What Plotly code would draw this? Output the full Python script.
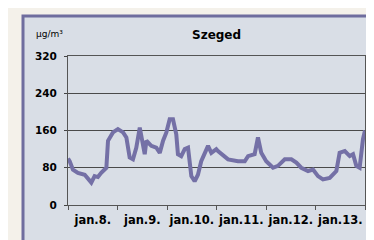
import plotly.graph_objects as go

# hours from jan.8. 00:00 and PM10 concentration (µg/m³)
hours = [0, 0.8, 2.4, 4.8, 8.1, 9.7, 11.3, 12.9, 14.5, 16.1, 18.6, 19.4, 21.8, 24.2, 26.7,
         28.3, 29.9, 31.5, 33.1, 34.8, 36.4, 37.2, 38.0, 40.4, 42.8, 44.5, 46.1, 47.7,
         49.3, 50.9, 52.5, 53.3, 54.9, 56.6, 58.2, 59.0, 59.8, 61.4, 63.0, 64.6, 66.3,
         67.9, 69.5, 71.9, 72.7, 77.6, 82.4, 85.7, 87.3, 90.5, 92.1, 93.7, 96.1, 99.4,
         101.8, 105.1, 108.3, 110.7, 113.1, 116.4, 118.8, 121.2, 123.6, 126.9, 130.1,
         131.7, 134.2, 136.6, 138.2, 139.8, 141.4, 143.0, 144]
values = [100, 94, 76, 69, 65, 58, 48, 62, 60, 69, 80, 138, 156, 163, 156,
          145, 102, 98, 123, 166, 127, 109, 138, 127, 123, 112, 138, 156,
          184, 184, 152, 109, 105, 120, 123, 94, 62, 51, 65, 94, 112,
          127, 112, 120, 116, 98, 94, 94, 105, 109, 145, 112, 94, 80,
          84, 98, 98, 91, 80, 73, 76, 62, 55, 58, 73,
          112, 116, 105, 109, 84, 80, 141, 160]

day_labels = ["jan.8.", "jan.9.", "jan.10.", "jan.11.", "jan.12.", "jan.13."]
day_centers = [12, 36, 60, 84, 108, 132]
y_ticks = [0, 80, 160, 240, 320]

fig = go.Figure()
fig.add_trace(go.Scatter(x=hours, y=values, mode="lines",
                         line=dict(color="#7470a6", width=4), hoverinfo="skip"))

fam = "DejaVu Sans, Arial, sans-serif"
xfnt = dict(family=fam, size=11.5, color="#000000")
yfnt = dict(family=fam, size=10.5, color="#000000")

fig.update_layout(
    width=374, height=240,
    margin=dict(l=60, r=17, t=48, b=43),
    paper_bgcolor="#f4f1ea",
    plot_bgcolor="rgba(0,0,0,0)",
    showlegend=False,
    shapes=[dict(type="rect", xref="paper", yref="paper", layer="below",
                 x0=-45/297, x1=312/297, y0=-41/149, y1=1 + 40/149,
                 fillcolor="#d9dee6", line=dict(color="#6f6d9e", width=3))],
    annotations=[
        dict(text="<b>Szeged</b>", xref="paper", yref="paper", x=0.5, y=1 + 21/149,
             showarrow=False, font=dict(family=fam, size=12, color="#000"),
             xanchor="center", yanchor="middle"),
        dict(text="µg/m³", xref="paper", yref="paper", x=-34/297, y=1 + 22/149,
             showarrow=False, font=dict(family=fam, size=9, color="#000"),
             xanchor="left", yanchor="middle"),
    ],
)
fig.update_xaxes(range=[0, 144], tickvals=day_centers,
                 ticktext=["<b>%s</b>" % t for t in day_labels],
                 ticks="", tickfont=xfnt, showgrid=False, zeroline=False,
                 ticklabelstandoff=4,
                 showline=True, linecolor="#555555", linewidth=1, mirror=True,
                 minor=dict(tick0=0, dtick=24, ticks="outside", ticklen=4,
                            tickcolor="#555555", showgrid=False))
fig.update_yaxes(range=[0, 320], tickvals=y_ticks,
                 ticktext=["<b>%d</b>" % v for v in y_ticks],
                 ticks="outside", ticklen=3, tickcolor="#444444",
                 tickfont=yfnt, showgrid=True, gridcolor="#4a4a4a", gridwidth=1,
                 ticklabelstandoff=5,
                 zeroline=False, showline=True, linecolor="#555555", linewidth=1,
                 mirror=True)

fig.write_html("out.html")
